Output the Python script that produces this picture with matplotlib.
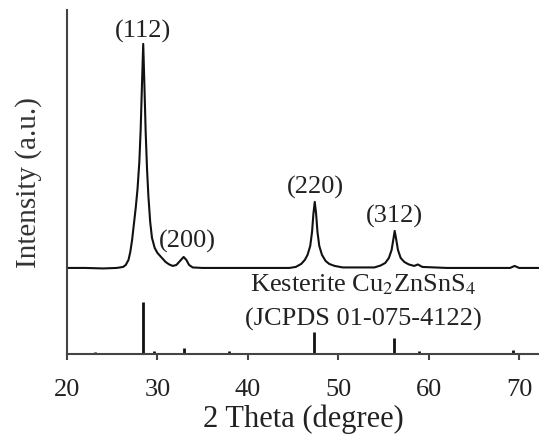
import matplotlib
matplotlib.use("Agg")
import matplotlib.pyplot as plt

# XRD pattern (2 theta, intensity in arbitrary units)
theta = [20.0, 22.0, 24.0, 25.5, 26.2, 26.5, 26.8, 27.0, 27.2, 27.4, 27.6,
         27.8, 28.0, 28.15, 28.3, 28.43, 28.55, 28.7, 28.85, 29.0, 29.2,
         29.4, 29.7, 30.0, 30.4, 30.9, 31.3, 31.7, 32.1, 32.5, 32.9, 33.2,
         33.5, 33.9, 35.0, 40.0, 44.6, 45.3, 45.9, 46.3, 46.6, 46.9, 47.1,
         47.25, 47.4, 47.55, 47.7, 47.9, 48.2, 48.6, 49.0, 49.6, 50.5, 54.0,
         54.7, 55.2, 55.6, 55.9, 56.1, 56.24, 56.4, 56.6, 56.9, 57.3, 57.8,
         58.4, 58.8, 59.3, 62.0, 66.0, 69.0, 69.5, 70.0, 72.5]
intensity = [86, 86, 85.5, 86, 87, 89, 94, 102, 114, 130, 146,
             165, 192, 225, 272, 310, 272, 222, 185, 158, 132,
             116, 106, 101, 97, 92, 89.5, 88, 89, 93, 97, 94,
             89, 86.5, 86, 86, 86, 87, 90, 94, 99, 108, 122,
             140, 152, 140, 122, 108, 99, 93, 90, 88, 86.5, 86.5,
             88.5, 91, 96, 104, 115, 123, 115, 104, 96, 92, 89.5,
             88, 89.5, 87, 86, 86, 86, 88, 86, 86]

# JCPDS 01-075-4122 reference lines
ref_theta = [23.1, 28.45, 29.6, 32.9, 37.9, 47.35, 56.15, 58.9, 69.3]
ref_int = [2, 52, 3, 6, 3, 22, 16, 3, 4]

# peak labels
hkl = ["(112)", "(200)", "(220)", "(312)"]
hkl_x = [28.4, 33.3, 47.5, 56.2]
hkl_y = [323, 113, 167, 138]

plt.rcParams["font.family"] = ["Liberation Serif", "DejaVu Serif"]
plt.rcParams["mathtext.fontset"] = "stix"

fig = plt.figure(figsize=(5.39, 4.35), dpi=100)
ax = fig.add_axes([0.1243, 0.184, 0.8757, 0.791])

ax.plot(theta, intensity, color="#111111", lw=1.5, solid_joinstyle="round")
ax.vlines(ref_theta, 0, ref_int, color="#111111", lw=2)

for lab, x, y in zip(hkl, hkl_x, hkl_y):
    ax.text(x, y, lab, ha="center", va="center", fontsize=19, color="#222222")

ax.text(52.8, 70, r"Kesterite Cu$_2$ZnSnS$_4$", ha="center", va="center",
        fontsize=19, color="#222222")
ax.text(52.8, 35, "(JCPDS 01-075-4122)", ha="center", va="center",
        fontsize=19, color="#222222")

ax.set_xlim(20, 72.2)
ax.set_ylim(0, 344)
ax.set_xticks([20, 30, 40, 50, 60, 70])
ax.set_yticks([])
ax.spines["top"].set_visible(False)
ax.spines["right"].set_visible(False)
for s in ["left", "bottom"]:
    ax.spines[s].set_linewidth(1.5)
    ax.spines[s].set_color("#444444")
ax.tick_params(axis="x", direction="out", length=4, width=1.5, color="#444444",
               labelsize=19, labelcolor="#222222", pad=13)
ax.set_xlabel("2 Theta (degree)", fontsize=22, color="#222222", labelpad=3)
ax.set_ylabel("Intensity (a.u.)", fontsize=21, color="#333333", labelpad=18)

fig.savefig("out.png", dpi=100)
